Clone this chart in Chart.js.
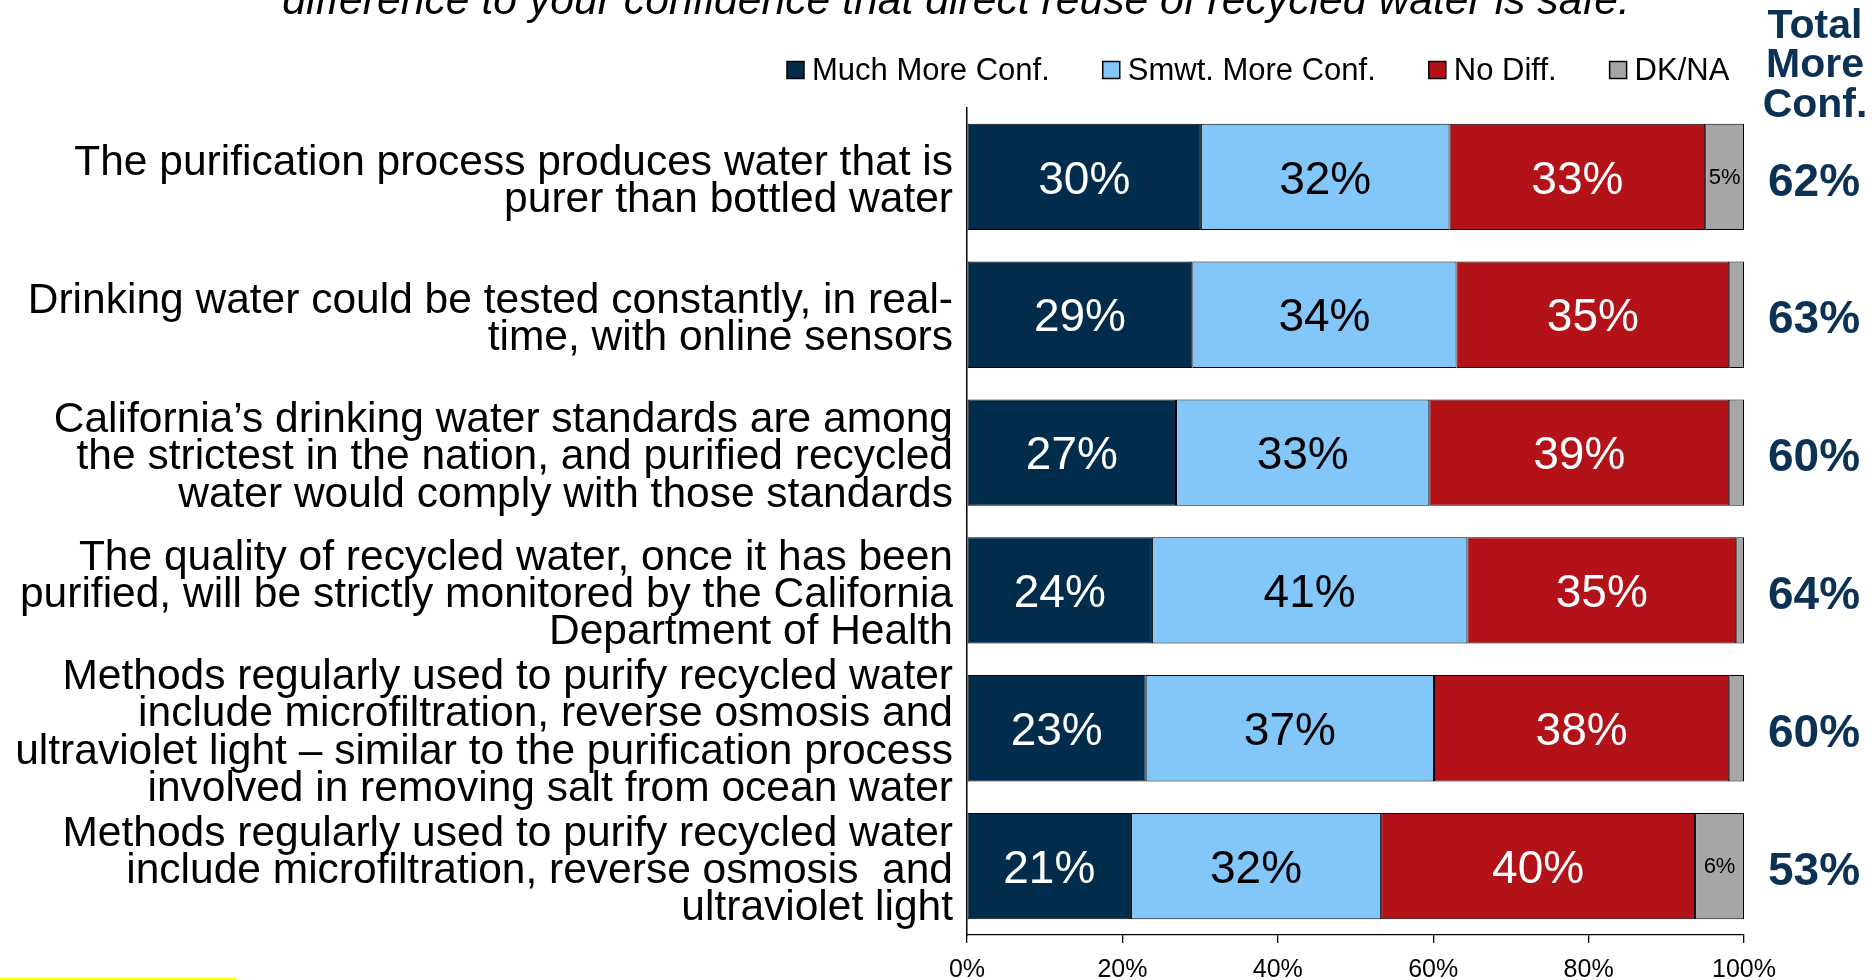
<!DOCTYPE html>
<html>
<head>
<meta charset="utf-8">
<script src="https://cdn.jsdelivr.net/npm/chart.js@4.4.1/dist/chart.umd.min.js"></script>
<style>
  html, body { margin: 0; padding: 0; background: #ffffff; }
  #wrap { width: 1875px; height: 980px; position: relative; }
  canvas { display: block; }
</style>
</head>
<body>
<div id="wrap"><canvas id="c" width="1875" height="980"></canvas></div>
<script>
// ---- Data ----
const titleText = "difference to your confidence that direct reuse of recycled water is safe.";

const categories = [
  ["The purification process produces water that is", "purer than bottled water"],
  ["Drinking water could be tested constantly, in real-", "time, with online sensors"],
  ["California\u2019s drinking water standards are among", "the strictest in the nation, and purified recycled", "water would comply with those standards"],
  ["The quality of recycled water, once it has been", "purified, will be strictly monitored by the California", "Department of Health"],
  ["Methods regularly used to purify recycled water", "include microfiltration, reverse osmosis and", "ultraviolet light \u2013 similar to the purification process", "involved in removing salt from ocean water"],
  ["Methods regularly used to purify recycled water", "include microfiltration, reverse osmosis  and", "ultraviolet light"]
];

const seriesNames = ["Much More Conf.", "Smwt. More Conf.", "No Diff.", "DK/NA"];

const muchMore  = [30.1, 29.0, 26.9, 23.8, 23.0, 21.1];
const smwtMore  = [32.0, 34.0, 32.6, 40.6, 37.1, 32.2];
const noDiff    = [32.9, 35.1, 38.6, 34.6, 38.0, 40.4];
const dkNa      = [5.0, 1.9, 1.9, 1.0, 1.9, 6.3];

const totalMore = [62, 63, 60, 64, 60, 53];
const totalHeader = ["Total", "More", "Conf."];

const xTicks = [0, 20, 40, 60, 80, 100];

// ---- Styles ----
const FONT = "'Liberation Sans', Arial, sans-serif";
const colors = ["#022c4c", "#82c6fa", "#b21218", "#a6a6a6"];
const labelColors = ["#ffffff", "#000000", "#ffffff", "#000000"];
const navy = "#0b3254";

const seriesValues = [muchMore, smwtMore, noDiff, dkNa];

const datasets = seriesNames.map((name, i) => ({
  label: name,
  data: seriesValues[i],
  backgroundColor: colors[i],
  borderColor: "#000000",
  borderWidth: 1,
  borderSkipped: false,
  barPercentage: 0.771,
  categoryPercentage: 1.0
}));

// Data labels inside bars
const barLabelsPlugin = {
  id: "barLabels",
  afterDatasetsDraw(chart) {
    const ctx = chart.ctx;
    ctx.save();
    ctx.textAlign = "center";
    ctx.textBaseline = "middle";
    chart.data.datasets.forEach((ds, i) => {
      const meta = chart.getDatasetMeta(i);
      meta.data.forEach((bar, j) => {
        const v = ds.data[j];
        if (v < 3) return;
        const small = (i === 3);
        ctx.font = (small ? "22px " : "46px ") + FONT;
        ctx.fillStyle = labelColors[i];
        const cx = (bar.x + bar.base) / 2;
        ctx.fillText(Math.round(v) + "%", cx, bar.y + (small ? 1 : 4));
      });
    });
    ctx.restore();
  }
};

// Title, legend, total column and decoration
const extrasPlugin = {
  id: "extras",
  afterDraw(chart) {
    const ctx = chart.ctx;
    ctx.save();
    // Title (cut at top in the reference)
    ctx.font = "italic 42.7px " + FONT;
    ctx.fillStyle = "#000000";
    ctx.textAlign = "center";
    ctx.textBaseline = "alphabetic";
    ctx.fillText(titleText, 956, 14);

    // Legend
    ctx.font = "31px " + FONT;
    ctx.textAlign = "left";
    let x = 787;
    seriesNames.forEach((name, i) => {
      ctx.fillStyle = colors[i];
      ctx.fillRect(x, 61.5, 17, 17);
      ctx.strokeStyle = "#000000";
      ctx.lineWidth = 1.5;
      ctx.strokeRect(x, 61.5, 17, 17);
      ctx.fillStyle = "#000000";
      ctx.fillText(name, x + 25, 80);
      x += 25 + ctx.measureText(name).width + 53;
    });

    // Total header
    ctx.font = "bold 41px " + FONT;
    ctx.fillStyle = navy;
    ctx.textAlign = "center";
    ctx.textBaseline = "middle";
    const hy = [27, 66, 106];
    totalHeader.forEach((t, k) => ctx.fillText(t, 1815, hy[k]));

    // Total values
    const yScale = chart.scales.y;
    ctx.font = "bold 46px " + FONT;
    totalMore.forEach((v, j) => {
      ctx.fillText(v + "%", 1814, yScale.getPixelForValue(j) + 6);
    });

    // Yellow mark at bottom left
    ctx.fillStyle = "#ffff00";
    ctx.fillRect(0, 978, 236, 2);
    ctx.restore();
  }
};

new Chart(document.getElementById("c"), {
  type: "bar",
  data: { labels: categories, datasets: datasets },
  plugins: [barLabelsPlugin, extrasPlugin],
  options: {
    indexAxis: "y",
    responsive: false,
    devicePixelRatio: 1,
    animation: false,
    layout: { padding: { top: 108, right: 131, bottom: 0, left: 0 } },
    plugins: {
      legend: { display: false },
      title: { display: false },
      tooltip: { enabled: false }
    },
    scales: {
      x: {
        stacked: true,
        min: 0,
        max: 100,
        afterBuildTicks(scale) { scale.ticks = xTicks.map(v => ({ value: v })); },
        afterFit(scale) {
          scale.height = 45;
          scale.paddingLeft = 0; scale.paddingRight = 0;
        },
        grid: {
          display: true,
          drawOnChartArea: false,
          drawTicks: true,
          tickLength: 8,
          color: "#000000",
          lineWidth: 1.3
        },
        border: { display: true, color: "#000000", width: 1.3 },
        ticks: {
          padding: 12,
          color: "#000000",
          font: { family: FONT, size: 25 },
          maxRotation: 0,
          callback: (v) => v + "%"
        }
      },
      y: {
        stacked: true,
        afterFit(scale) {
          scale.width = 967;
          scale.paddingTop = 0; scale.paddingBottom = 0;
        },
        grid: { display: false, drawTicks: false },
        border: { display: true, color: "#000000", width: 1.5 },
        ticks: {
          padding: 14,
          labelOffset: 5,
          color: "#000000",
          autoSkip: false,
          font: { family: FONT, size: 42.5, lineHeight: 0.877 }
        }
      }
    }
  }
});
</script>
</body>
</html>
